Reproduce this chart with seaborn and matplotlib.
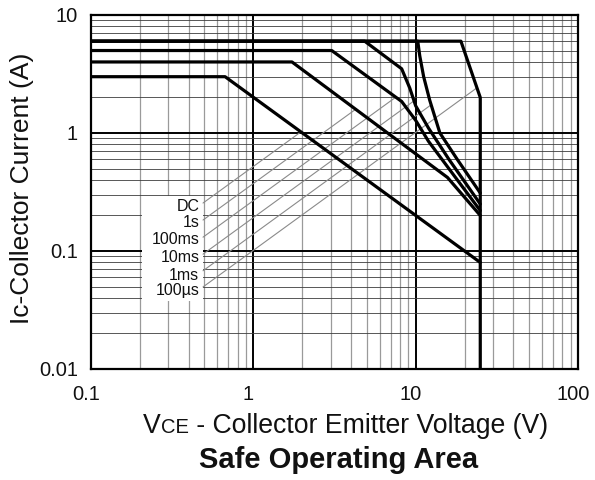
import matplotlib
matplotlib.use("Agg")
import matplotlib.pyplot as plt
import matplotlib.transforms as mtransforms
import pandas as pd
import seaborn as sns
from matplotlib.patches import Rectangle
from matplotlib.ticker import NullFormatter

sns.set_theme(style="white")
plt.rcParams["font.family"] = ["Liberation Sans", "DejaVu Sans"]

# ── SOA curves (Vce in V, Ic in A) ────────────────────────────────────
DC_V    = [0.1, 0.67, 25]
DC_I    = [3, 3, 0.08]
S1_V    = [0.1, 1.73, 15.7, 25]
S1_I    = [4, 4, 0.42, 0.2]
MS100_V = [0.1, 3.04, 8.2, 10, 12, 16, 25]
MS100_I = [5, 5, 1.85, 1.28, 0.85, 0.5, 0.22]
MS10_V  = [0.1, 4.85, 8.2, 9.2, 10, 12, 16, 25]
MS10_I  = [6, 6, 3.5, 2.4, 1.7, 1.1, 0.6, 0.25]
MS1_V   = [0.1, 10.3, 10.6, 11.2, 12.2, 14.1, 18, 25]
MS1_I   = [6, 6, 4.5, 3.0, 1.9, 1.0, 0.6, 0.31]
US100_V = [0.1, 19, 25, 25]
US100_I = [6, 6, 2, 0.01]

CURVE_NAMES = ["DC", "1s", "100ms", "10ms", "1ms", "100µs"]
CURVE_V     = [DC_V, S1_V, MS100_V, MS10_V, MS1_V, US100_V]
CURVE_I     = [DC_I, S1_I, MS100_I, MS10_I, MS1_I, US100_I]

# label positions and leader lines
LABEL_X     = 0.465
LABEL_Y     = [0.236, 0.173, 0.124, 0.0873, 0.0626, 0.0467]
PTR_START_X = 0.49
PTR_START_Y = [0.255, 0.183, 0.131, 0.094, 0.068, 0.0496]
PTR_END_X   = [1.96, 4.3, 7.5, 9.7, 12.5, 24]
PTR_END_Y   = [1.02, 1.6, 2.0, 1.86, 1.74, 2.43]

X_TICKS  = [0.1, 1, 10, 100]
X_LABELS = ["0.1", "1", "10", "100"]
Y_TICKS  = [0.01, 0.1, 1, 10]
Y_LABELS = ["0.01", "0.1", "1", "10"]

rows = []
for name, vs, cs in zip(CURVE_NAMES, CURVE_V, CURVE_I):
    for k, (v, c) in enumerate(zip(vs, cs)):
        rows.append({"curve": name, "order": k, "V": v, "I": c})
df = pd.DataFrame(rows)

fig = plt.figure(figsize=(5.95, 4.8), dpi=100, facecolor="white")
ax = fig.add_axes([91 / 595, 1 - 369 / 480, 487 / 595, 354 / 480])
ax.set_xscale("log")
ax.set_yscale("log")
ax.set_xlim(0.1, 100)
ax.set_ylim(0.01, 10)

# grid
ax.set_axisbelow(True)
ax.grid(which="major", color="black", lw=1.4)
ax.xaxis.grid(which="minor", color="#9a9a9a", lw=0.9)
ax.yaxis.grid(which="minor", color="#3c3c3c", lw=0.6)

# white box behind the curve labels
ax.add_patch(Rectangle((0.206, 0.038), 0.49 - 0.206, 0.29 - 0.038,
                       facecolor="white", edgecolor="none", zorder=1))

# leader lines
for x0, y0, x1, y1 in zip([PTR_START_X] * 6, PTR_START_Y, PTR_END_X, PTR_END_Y):
    ax.plot([x0, x1], [y0, y1], color="#8a8a8a", lw=0.8, zorder=1.5)

sns.lineplot(data=df, x="V", y="I", units="curve", estimator=None, sort=False,
             color="black", lw=2.3, ax=ax, zorder=3)

for name, ly in zip(CURVE_NAMES, LABEL_Y):
    ax.text(LABEL_X, ly, name, ha="right", va="center", fontsize=11.5,
            color="#111111", zorder=4)

ax.set_xticks(X_TICKS, X_LABELS)
ax.set_yticks(Y_TICKS, Y_LABELS)
ax.xaxis.set_minor_formatter(NullFormatter())
ax.yaxis.set_minor_formatter(NullFormatter())
ax.tick_params(which="both", length=0, labelsize=14.5, colors="#111111")
ax.tick_params(axis="x", pad=11.5)
ax.tick_params(axis="y", pad=9.4)
shift = mtransforms.ScaledTranslation(-5 / 100, 0, fig.dpi_scale_trans)
for lab in ax.get_xticklabels():
    lab.set_transform(lab.get_transform() + shift)
ax.set_xlabel("")
ax.set_ylabel("")

for spine in ax.spines.values():
    spine.set_edgecolor("black")
    spine.set_linewidth(1.6)

# axis titles
fig.text(22 / 595, 1 - 188 / 480, "Ic-Collector Current (A)", rotation=90,
         ha="center", va="center", fontsize=19, color="#111111")

base_y = 1 - 433 / 480
t1 = fig.text(143 / 595, base_y, "V", ha="left", va="baseline",
              fontsize=19.2, color="#111111")
t2 = ax.annotate("CE", xy=(1, base_y), xycoords=(t1, "figure fraction"),
                 ha="left", va="baseline", fontsize=14.5, color="#111111")
ax.annotate(" - Collector Emitter Voltage (V)", xy=(1, base_y),
            xycoords=(t2, "figure fraction"), ha="left", va="baseline",
            fontsize=19.2, color="#111111")

fig.text(339 / 595, 1 - 468 / 480, "Safe Operating Area", ha="center",
         va="baseline", fontsize=21, fontweight="bold", color="#111111")

fig.savefig("out.png", dpi=100, facecolor="white")
